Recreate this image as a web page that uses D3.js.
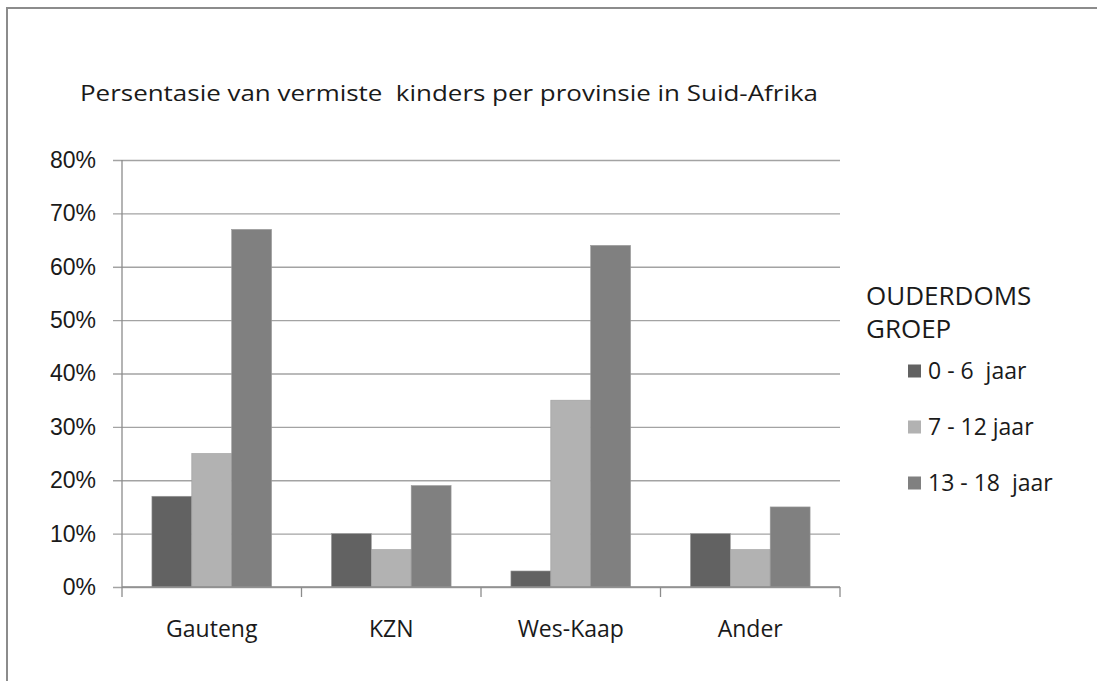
<!DOCTYPE html>
<html>
<head>
<meta charset="utf-8">
<script src="https://cdn.jsdelivr.net/npm/d3@7"></script>
<style>
  body { margin:0; background:#fff; }
  text { fill:#1a1a1a; }
</style>
</head>
<body>
<div id="chart"></div>
<script>
// data
var provinces = ['Gauteng', 'KZN', 'Wes-Kaap', 'Ander'];
var groups = ['0 - 6  jaar', '7 - 12 jaar', '13 - 18  jaar'];
var age0to6 = [0.17, 0.10, 0.03, 0.10];
var age7to12 = [0.25, 0.07, 0.35, 0.07];
var age13to18 = [0.67, 0.19, 0.64, 0.15];
var yTicks = [0, 0.1, 0.2, 0.3, 0.4, 0.5, 0.6, 0.7, 0.8];
var colours = ['#626262', '#b2b2b2', '#808080'];

var series = [age0to6, age7to12, age13to18];

var W = 1097, H = 681;
var m = {t:160, r:257, b:94, l:122};

var svg = d3.select('#chart').append('svg')
  .attr('width', W).attr('height', H);

// outer frame (top + left edge only visible)
svg.append('path')
  .attr('d', 'M7,' + H + 'V8H' + W)
  .attr('fill', 'none')
  .attr('stroke', '#8c8c8c')
  .attr('stroke-width', 2);

var x0 = d3.scaleBand().domain(provinces).range([m.l, W - m.r]);
var x1 = d3.scaleBand().domain(groups)
  .range([x0.bandwidth() / 6, x0.bandwidth() * 5 / 6]);
var y = d3.scaleLinear().domain([0, 0.8]).range([H - m.b, m.t]);

// gridlines
var gy = svg.append('g')
  .attr('transform', 'translate(' + (W - m.r) + ',0)');
gy.call(d3.axisLeft(y).tickValues(yTicks).tickSize(W - m.r - m.l + 9).tickFormat(''));
gy.select('.domain').remove();
gy.selectAll('line').attr('stroke', '#a3a3a3').attr('stroke-width', 1.3);

// y tick labels
var gl = svg.append('g')
  .attr('transform', 'translate(' + m.l + ',0)');
gl.call(d3.axisLeft(y).tickValues(yTicks).tickFormat(d3.format('.0%')).tickSize(9).tickPadding(17));
gl.select('.domain').remove();
gl.selectAll('line').remove();
gl.selectAll('text')
  .style('font-family', '"Liberation Sans", Arial, sans-serif')
  .style('font-size', '23px')
  .attr('fill', '#1a1a1a');

// vertical axis line
svg.append('line')
  .attr('x1', m.l).attr('x2', m.l)
  .attr('y1', m.t).attr('y2', H - m.b)
  .attr('stroke', '#8c8c8c').attr('stroke-width', 1.3);

// bars
var bars = svg.append('g');
provinces.forEach(function(p, i){
  series.forEach(function(s, j){
    bars.append('rect')
      .attr('x', x0(p) + x1(groups[j]))
      .attr('y', y(s[i]))
      .attr('width', x1.bandwidth())
      .attr('height', y(0) - y(s[i]))
      .attr('fill', colours[j])
      .attr('stroke', '#9a9a9a')
      .attr('stroke-width', 0.6);
  });
});

// x axis
var gx = svg.append('g')
  .attr('transform', 'translate(0,' + (H - m.b) + ')');
gx.append('line')
  .attr('x1', m.l).attr('x2', W - m.r)
  .attr('stroke', '#8c8c8c').attr('stroke-width', 1.3);
var bounds = provinces.map(function(p){ return x0(p); }).concat([W - m.r]);
gx.selectAll('.tk').data(bounds).enter().append('line')
  .attr('x1', function(d){ return d; }).attr('x2', function(d){ return d; })
  .attr('y1', 0).attr('y2', 10)
  .attr('stroke', '#8c8c8c').attr('stroke-width', 1.3);
gx.selectAll('.lbl').data(provinces).enter().append('text')
  .attr('x', function(d){ return x0(d) + x0.bandwidth() / 2; })
  .attr('y', 50)
  .attr('text-anchor', 'middle')
  .style('font-family', '"Open Sans", sans-serif')
  .style('font-size', '23px')
  .text(function(d){ return d; });

// title (source text is stretched horizontally)
svg.append('text')
  .attr('x', 80).attr('y', 101)
  .attr('xml:space', 'preserve')
  .attr('textLength', 738)
  .attr('lengthAdjust', 'spacingAndGlyphs')
  .style('font-family', '"Open Sans", sans-serif')
  .style('font-size', '21.5px')
  .text('Persentasie van vermiste  kinders per provinsie in Suid-Afrika');

// legend
var lg = svg.append('g').attr('transform', 'translate(866,0)');
lg.append('text').attr('x', 0).attr('y', 305)
  .style('font-family', '"Open Sans", sans-serif').style('font-size', '26px')
  .text('OUDERDOMS');
lg.append('text').attr('x', 0).attr('y', 338)
  .style('font-family', '"Open Sans", sans-serif').style('font-size', '26px')
  .text('GROEP');
var items = lg.selectAll('.item').data(groups).enter().append('g')
  .attr('transform', function(d, i){ return 'translate(42,' + (371 + i * 56) + ')'; });
items.append('rect')
  .attr('x', 0).attr('y', -6.5).attr('width', 13).attr('height', 13)
  .attr('fill', function(d, i){ return colours[i]; });
items.append('text')
  .attr('x', 20).attr('y', 8)
  .attr('xml:space', 'preserve')
  .style('font-family', '"Open Sans", sans-serif').style('font-size', '23px')
  .text(function(d){ return d; });
</script>
</body>
</html>
